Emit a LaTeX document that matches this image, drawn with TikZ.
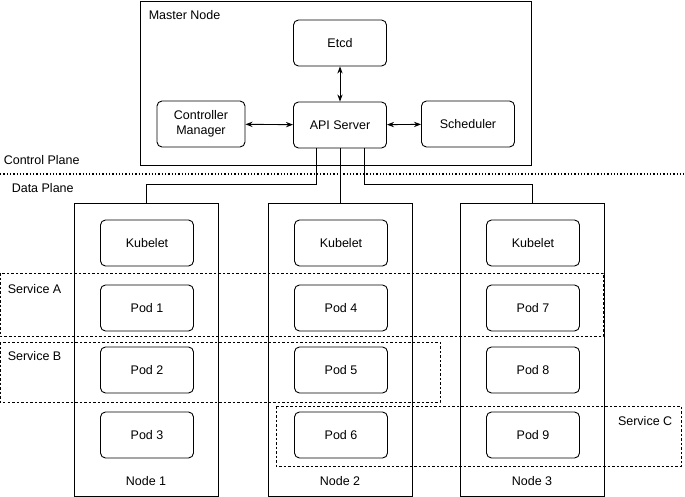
\documentclass[tikz,border=0pt]{standalone}
\usepackage{fontspec}
\setmainfont{Liberation Sans}
\usetikzlibrary{arrows.meta}

\begin{document}
\begin{tikzpicture}[x=1pt,y=-1pt,font=\fontsize{12.5}{15}\selectfont,line width=0.9pt,
    box/.style={draw,rounded corners=5pt,minimum width=93pt,minimum height=46pt,align=center},
    node box/.style={draw},
    service/.style={draw,dash pattern=on 2.5pt off 2pt,line width=0.6pt}]
    \useasboundingbox (0,0) rectangle (685,497);

    % master node
    \draw [node box] (140,1) rectangle (531,165);
    \node [anchor=west] at (145,15) {Master Node};
    \node [box] (etcd) at (340,43) {Etcd};
    \node [box] (api) at (340,125) {API Server};
    \node [box,minimum width=88pt] (ctrl) at (201,124) {Controller\\Manager};
    \node [box] (sched) at (468,124) {Scheduler};
    \draw [{Stealth}-{Stealth}] (etcd) -- (api);
    \draw [{Stealth}-{Stealth}] (ctrl) -- (api);
    \draw [{Stealth}-{Stealth}] (api) -- (sched);

    % planes
    \draw [dotted,line width=1.3pt] (0,174) -- (685,174);
    \node [anchor=west] at (0,160) {Control Plane};
    \node [anchor=west] at (8,188) {Data Plane};

    % worker nodes
    \foreach \n/\x in {1/146,2/340,3/532} {
        \draw [node box] (\x-72,203) rectangle (\x+72,496);
        \coordinate (top\n) at (\x,203);
        \node (node\n) at (\x,481) {Node \n};
        \node [box] (kubelet\n) at (\x+1,243) {Kubelet};
    }
    \foreach \p/\x/\y in {1/147/308,2/147/370,3/147/435,4/341/308,5/341/370,6/341/435,7/533/308,8/533/370,9/533/435}
        \node [box] (pod\p) at (\x,\y) {Pod \p};

    \draw (api.south west) ++(23,0) |- (146,184) -- (top1);
    \draw (api.south) -- (top2);
    \draw (api.south east) ++(-23,0) |- (532,184) -- (top3);

    % services
    \draw [service] (0,273) rectangle (603,336);
    \node [anchor=west] at (4,289) {Service A};
    \draw [service] (0,342) rectangle (440,402);
    \node [anchor=west] at (4,356) {Service B};
    \draw [service] (276,406) rectangle (681,466);
    \node [anchor=east] at (676,421) {Service C};
\end{tikzpicture}
\end{document}
